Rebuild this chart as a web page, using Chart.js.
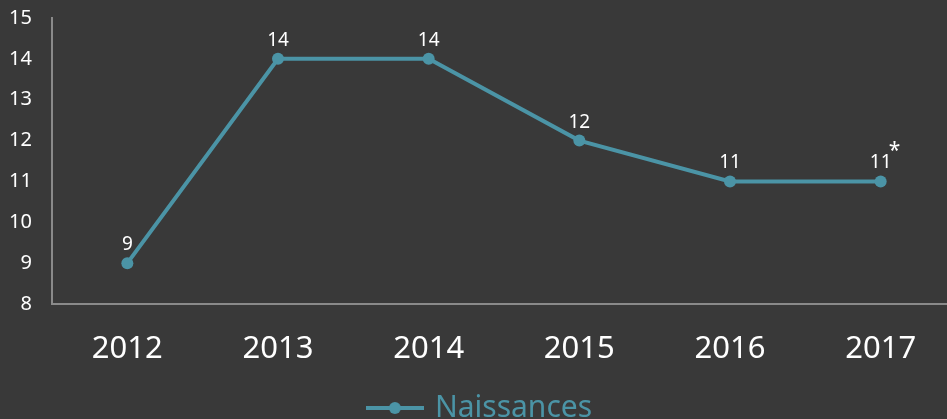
<!DOCTYPE html>
<html>
<head>
<meta charset="utf-8">
<script src="https://cdn.jsdelivr.net/npm/chart.js@4/dist/chart.umd.min.js"></script>
<style>
  html, body { margin: 0; padding: 0; background: #393939; overflow: hidden; }
  #wrap { width: 962px; height: 439px; margin-top: -6px; }
</style>
</head>
<body>
<div id="wrap"><canvas id="naissancesChart"></canvas></div>
<script>
const years = ["2012", "2013", "2014", "2015", "2016", "2017"];
const naissances = [9, 14, 14, 12, 11, 11];
const yTicks = [8, 9, 10, 11, 12, 13, 14, 15];
const footnotes = ["", "", "", "", "", "*"];

const teal = "#4b94a6";
const font = "'Noto Sans', 'Open Sans', sans-serif";

// legend icon: short line with a dot in the middle
const legendIcon = document.createElement("canvas");
legendIcon.width = 58;
legendIcon.height = 14;
(() => {
  const c = legendIcon.getContext("2d");
  c.fillStyle = teal;
  c.fillRect(0, 5, 58, 4);
  c.beginPath();
  c.arc(29, 7, 6, 0, Math.PI * 2);
  c.fill();
})();

const pointLabels = {
  id: "pointLabels",
  afterDatasetsDraw(chart) {
    const ctx = chart.ctx;
    const meta = chart.getDatasetMeta(0);
    ctx.save();
    ctx.fillStyle = "#ffffff";
    ctx.textAlign = "center";
    ctx.textBaseline = "alphabetic";
    meta.data.forEach((pt, i) => {
      ctx.font = "19px " + font;
      ctx.fillText(String(naissances[i]), pt.x, pt.y - 13);
      if (footnotes[i]) {
        const w = ctx.measureText(String(naissances[i])).width;
        ctx.font = "21px " + font;
        ctx.fillText(footnotes[i], pt.x + w / 2 + 3, pt.y - 24);
      }
    });
    ctx.restore();
  }
};

new Chart(document.getElementById("naissancesChart"), {
  type: "line",
  data: {
    labels: years,
    datasets: [
      {
        label: "Naissances",
        data: naissances,
        borderColor: teal,
        backgroundColor: teal,
        borderWidth: 4,
        pointRadius: 6,
        pointBackgroundColor: teal,
        pointBorderWidth: 0,
        tension: 0,
      },
    ],
  },
  options: {
    responsive: true,
    maintainAspectRatio: false,
    animation: false,
    layout: { padding: { top: 8, right: 0, left: 0, bottom: 0 } },
    plugins: {
      tooltip: { enabled: false },
      legend: {
        position: "bottom",
        labels: {
          color: teal,
          font: { family: font, size: 30 },
          usePointStyle: true,
          pointStyleWidth: 50,
          padding: 0,
          generateLabels(chart) {
            return [{
              text: "Naissances",
              fontColor: teal,
              pointStyle: legendIcon,
              datasetIndex: 0,
              lineWidth: 0,
            }];
          },
        },
      },
    },
    scales: {
      x: {
        offset: true,
        grid: { display: false },
        border: { display: true, color: "#8a8a8a", width: 2 },
        ticks: { color: "#ffffff", font: { family: font, size: 31 }, padding: 19 },
        afterFit(scale) { scale.height = 89; },
      },
      y: {
        min: 8,
        max: 15,
        afterBuildTicks(scale) { scale.ticks = yTicks.map((v) => ({ value: v })); },
        grid: { display: false },
        border: { display: true, color: "#8a8a8a", width: 2 },
        ticks: { color: "#ffffff", font: { family: font, size: 20 }, padding: 12 },
        afterFit(scale) { scale.width = 52; },
      },
    },
  },
  plugins: [pointLabels],
});
</script>
</body>
</html>
